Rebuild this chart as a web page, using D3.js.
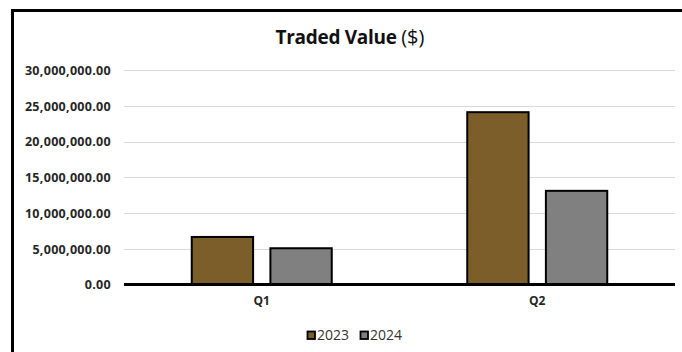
<!DOCTYPE html>
<html>
<head>
<meta charset="utf-8">
<script src="https://cdn.jsdelivr.net/npm/d3@7"></script>
<style>
  html, body { margin: 0; padding: 0; background: #fff; }
  svg { display: block; }
</style>
</head>
<body>
<svg id="chart" width="682" height="352"></svg>
<script>
// Quarterly traded value by year
const quarters = ["Q1", "Q2"];
const years = ["2023", "2024"];
const values2023 = [6650000, 24100000];
const values2024 = [5070000, 13100000];
const yTicks = [0, 5000000, 10000000, 15000000, 20000000, 25000000, 30000000];
const yearColors = ["#7b5e29", "#808080"];

const seriesByYear = [values2023, values2024];

const svg = d3.select("#chart");
const W = 682, H = 352;
const plot = { left: 124, right: 675, top: 70, bottom: 284.5 };
const font = "'Open Sans', 'Liberation Sans', sans-serif";

// frame: top and left edges only
svg.append("line").attr("x1", 11).attr("x2", W).attr("y1", 10.5).attr("y2", 10.5)
  .attr("stroke", "#000").attr("stroke-width", 3);
svg.append("line").attr("x1", 12.5).attr("x2", 12.5).attr("y1", 9).attr("y2", H)
  .attr("stroke", "#000").attr("stroke-width", 3);

// title
const title = svg.append("text")
  .attr("x", 350).attr("y", 44)
  .attr("text-anchor", "middle")
  .attr("font-family", font).attr("font-size", 19).attr("fill", "#111");
title.append("tspan").attr("font-weight", "bold").attr("letter-spacing", -0.3).text("Traded Value ");
title.append("tspan").attr("font-weight", "normal").attr("font-size", 20).text("($)");

const y = d3.scaleLinear().domain([0, 30000000]).range([plot.bottom, plot.top]);
const x0 = d3.scaleBand().domain(quarters).range([plot.left, plot.right]);
const groupWidth = 140;
const x1 = d3.scaleBand().domain(years).range([0, groupWidth]).paddingInner(0.22);

// horizontal gridlines
svg.append("g").selectAll("line").data(yTicks.filter(d => d > 0)).join("line")
  .attr("x1", plot.left).attr("x2", plot.right)
  .attr("y1", d => Math.round(y(d)) + 0.5).attr("y2", d => Math.round(y(d)) + 0.5)
  .attr("stroke", "#d9d9d9").attr("stroke-width", 1);

// y axis labels
const fmt = d3.format(",.2f");
const yAxis = svg.append("g")
  .attr("transform", `translate(${plot.left - 13},0)`)
  .call(d3.axisLeft(y).tickValues(yTicks).tickFormat(fmt).tickSize(0).tickPadding(0));
yAxis.select(".domain").remove();
yAxis.selectAll("text")
  .attr("font-family", font).attr("font-size", 12.5).attr("font-weight", "bold")
  .attr("letter-spacing", 0.3)
  .attr("fill", "#262626").attr("dy", "0.35em");

// bars
const groups = svg.append("g").selectAll("g").data(quarters).join("g")
  .attr("transform", q => `translate(${x0(q) + (x0.bandwidth() - groupWidth) / 2},0)`);
groups.selectAll("rect")
  .data((q, i) => years.map((yr, j) => ({ yr, j, v: seriesByYear[j][i] })))
  .join("rect")
  .attr("x", d => x1(d.yr))
  .attr("width", x1.bandwidth())
  .attr("y", d => y(d.v))
  .attr("height", d => y(0) - y(d.v))
  .attr("fill", d => yearColors[d.j])
  .attr("stroke", "#000").attr("stroke-width", 2);

// baseline
svg.append("line")
  .attr("x1", plot.left).attr("x2", plot.right)
  .attr("y1", y(0)).attr("y2", y(0))
  .attr("stroke", "#000").attr("stroke-width", 3);

// category labels
const xAxis = svg.append("g")
  .attr("transform", `translate(0,${plot.bottom + 9})`)
  .call(d3.axisBottom(x0).tickSize(0).tickPadding(0));
xAxis.select(".domain").remove();
xAxis.selectAll("text")
  .attr("font-family", font).attr("font-size", 12).attr("font-weight", "bold")
  .attr("fill", "#262626").attr("dy", "0.95em");

// legend
const legendX = [307.5, 360.5];
const legend = svg.append("g").selectAll("g").data(years).join("g")
  .attr("transform", (d, i) => `translate(${legendX[i]},331.5)`);
legend.append("rect")
  .attr("width", 7.5).attr("height", 7.5)
  .attr("fill", (d, i) => yearColors[i])
  .attr("stroke", "#000").attr("stroke-width", 1.8);
legend.append("text")
  .attr("x", 9.5).attr("y", 8.8)
  .attr("font-family", font).attr("font-size", 14)
  .attr("fill", "#333").text(d => d);
</script>
</body>
</html>
